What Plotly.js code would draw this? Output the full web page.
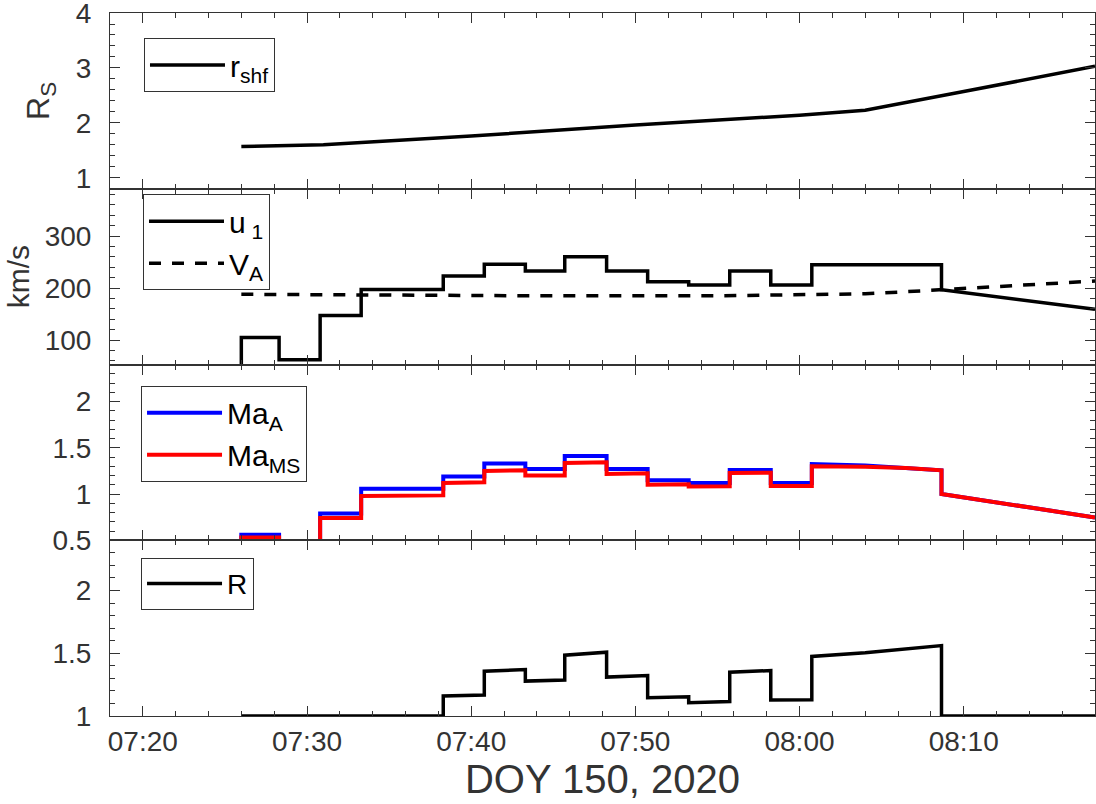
<!DOCTYPE html>
<html>
<head>
<meta charset="utf-8">
<script src="https://cdn.plot.ly/plotly-3.0.1.min.js"></script>
<style>
  html, body { margin: 0; padding: 0; background: #fff; }
  #chart { width: 1096px; height: 804px; }
</style>
</head>
<body>
<div id="chart"></div>
<script>
// ---- data (DOY 150, 2020 = 2020-05-29) ----
var day = '2020-05-29 ';

var rshfTime = ['07:26:00','07:31:00','07:40:00','07:50:00','08:00:00','08:04:00','08:10:00','08:18:00'];
var rshfVal  = [1.57, 1.60, 1.76, 1.96, 2.14, 2.23, 2.57, 3.03];

var u1Time = ['07:26:00','07:26:00','07:28:18','07:28:18','07:30:48','07:30:48','07:33:18','07:33:18',
              '07:38:18','07:38:18','07:40:48','07:40:48','07:43:18','07:43:18','07:45:42','07:45:42',
              '07:48:15','07:48:15','07:50:45','07:50:45','07:53:15','07:53:15','07:55:45','07:55:45',
              '07:58:15','07:58:15','08:00:45','08:00:45','08:08:39','08:08:39','08:18:00'];
var u1Val  = [30,105,105,62,62,147,147,197,
              197,223,223,246,246,233,233,260,
              260,233,233,212,212,206,206,233,
              233,206,206,245,245,197,159];

var vaTime = ['07:26:00','07:35:00','07:45:00','07:55:00','08:01:00','08:04:00','08:06:30','08:08:39','08:18:00'];
var vaVal  = [188, 186, 185, 185, 187, 189, 193, 197, 213.5];

var maTime = ['07:26:00','07:26:00','07:28:18','07:28:18','07:30:48','07:30:48','07:33:18','07:33:18',
              '07:38:18','07:38:18','07:40:48','07:40:48','07:43:18','07:43:18','07:45:42','07:45:42',
              '07:48:15','07:48:15','07:50:45','07:50:45','07:53:15','07:53:15','07:55:45','07:55:45',
              '07:58:15','07:58:15','08:00:45','08:00:45','08:04:00','08:06:30','08:08:39','08:08:39','08:18:00'];
var maAVal  = [0.2,0.56,0.56,0.33,0.33,0.79,0.79,1.058,
               1.058,1.19,1.19,1.33,1.33,1.27,1.27,1.41,
               1.41,1.27,1.27,1.15,1.15,1.12,1.12,1.26,
               1.26,1.12,1.12,1.325,1.307,1.285,1.256,1.0,0.747];
var maMSVal = [0.2,0.53,0.53,0.3,0.3,0.74,0.74,0.978,
               0.985,1.12,1.127,1.25,1.256,1.2,1.2,1.336,
               1.343,1.217,1.224,1.10,1.105,1.08,1.083,1.227,
               1.23,1.087,1.087,1.30,1.295,1.28,1.256,1.0,0.747];

var rTime = ['07:26:00','07:38:18','07:38:18','07:40:48','07:40:48','07:43:18','07:43:18','07:45:42',
             '07:45:42','07:48:15','07:48:15','07:50:45','07:50:45','07:53:15','07:53:15','07:55:45',
             '07:55:45','07:58:15','07:58:15','08:00:45','08:00:45','08:04:00','08:08:39','08:08:39','08:18:00'];
var rVal  = [1.0,1.0,1.159,1.167,1.357,1.37,1.278,1.286,
             1.484,1.508,1.31,1.323,1.146,1.153,1.106,1.116,
             1.349,1.362,1.127,1.13,1.474,1.503,1.561,1.0,1.0];

var xTitle = 'DOY 150, 2020';
var yTitle1 = 'R<sub>S</sub>';
var yTitle2 = 'km/s';

// ---- build ----
function t(arr) { return arr.map(function (s) { return day + s; }); }

var FONT = 'Liberation Sans, Arial, Helvetica, sans-serif';
var AX = '#333333';
var LW = 3.5;

var traces = [
  { x: t(rshfTime), y: rshfVal, xaxis: 'x', yaxis: 'y', mode: 'lines', name: 'r<sub>shf</sub>',
    line: { color: '#000', width: LW }, legend: 'legend' },
  { x: t(u1Time), y: u1Val, xaxis: 'x2', yaxis: 'y2', mode: 'lines', name: 'u<sub> 1</sub>',
    line: { color: '#000', width: LW }, legend: 'legend2', legendgroup: 'a' },
  { x: t(vaTime), y: vaVal, xaxis: 'x2', yaxis: 'y2', mode: 'lines', name: 'V<sub>A</sub>',
    line: { color: '#000', width: LW, dash: '12px,11px' }, legend: 'legend2', legendgroup: 'b' },
  { x: t(maTime), y: maAVal, xaxis: 'x3', yaxis: 'y3', mode: 'lines', name: 'Ma<sub>A</sub>',
    line: { color: '#0000ff', width: LW + 0.5 }, legend: 'legend3', legendgroup: 'c' },
  { x: t(maTime), y: maMSVal, xaxis: 'x3', yaxis: 'y3', mode: 'lines', name: 'Ma<sub>MS</sub>',
    line: { color: '#ff0000', width: LW + 0.5 }, legend: 'legend3', legendgroup: 'd' },
  { x: t(rTime), y: rVal, xaxis: 'x4', yaxis: 'y4', mode: 'lines', name: 'R',
    line: { color: '#000', width: LW }, legend: 'legend4' }
];

function xAxis(anchor, labels) {
  return {
    anchor: anchor, domain: [0, 1], type: 'date',
    range: [day + '07:18:00', day + '08:18:00'],
    tick0: day + '07:00:00', dtick: 600000, tickformat: '%H:%M',
    showticklabels: labels,
    ticks: 'inside', ticklen: 10, tickwidth: 1, tickcolor: AX,
    minor: { ticks: 'inside', dtick: 120000, tick0: day + '07:00:00', ticklen: 5, tickwidth: 1, tickcolor: AX },
    showline: true, linecolor: AX, linewidth: 1, mirror: 'allticks',
    showgrid: false, zeroline: false,
    tickfont: { family: FONT, size: 28, color: AX },
    ticklabelstandoff: 0,
    fixedrange: true
  };
}
function yAxis(anchor, dom, range, dtick, mdtick) {
  return {
    anchor: anchor, domain: dom, range: range,
    dtick: dtick, tick0: 0,
    ticks: 'inside', ticklen: 10, tickwidth: 1, tickcolor: AX,
    minor: { ticks: 'inside', dtick: mdtick, tick0: 0, ticklen: 5, tickwidth: 1, tickcolor: AX },
    showline: true, linecolor: AX, linewidth: 1, mirror: 'allticks',
    showgrid: false, zeroline: false,
    tickfont: { family: FONT, size: 28, color: AX },
    ticklabelstandoff: 12,
    ticklabeloverflow: 'allow',
    fixedrange: true
  };
}

var x1 = xAxis('y', false), x2 = xAxis('y2', false), x3 = xAxis('y3', false), x4 = xAxis('y4', true);
x2.matches = 'x'; x3.matches = 'x'; x4.matches = 'x';
x4.title = { text: xTitle, font: { family: FONT, size: 40, color: AX }, standoff: 0 };

var y1 = yAxis('x', [0.75, 1], [0.8, 4.0005], 1, 0.2);
var y2 = yAxis('x2', [0.5, 0.75], [53, 391], 100, 20);
var y3 = yAxis('x3', [0.25, 0.5], [0.5, 2.4], 0.5, 0.1);
var y4 = yAxis('x4', [0, 0.25], [1, 2.4], 0.5, 0.1);
y1.title = { text: yTitle1, font: { family: FONT, size: 32, color: AX }, standoff: 16 };
y2.title = { text: yTitle2, font: { family: FONT, size: 30, color: AX }, standoff: 6 };

function leg(x, y, fs) {
  return {
    x: x, y: y, xref: 'paper', yref: 'paper', xanchor: 'left', yanchor: 'top',
    bgcolor: '#ffffff', bordercolor: AX, borderwidth: 1,
    font: { family: FONT, size: fs || 30, color: '#000' },
    itemwidth: 75, tracegroupgap: 0, traceorder: 'normal'
  };
}

var layout = {
  width: 1096, height: 804,
  margin: { l: 110, r: 1, t: 13, b: 88, pad: 0 },
  paper_bgcolor: '#fff', plot_bgcolor: '#fff',
  font: { family: FONT, color: AX },
  showlegend: true,
  xaxis: x1, xaxis2: x2, xaxis3: x3, xaxis4: x4,
  yaxis: y1, yaxis2: y2, yaxis3: y3, yaxis4: y4,
  legend: leg(0.0345, 0.9644),
  legend2: leg(0.0335, 0.7421),
  legend3: leg(0.0315, 0.4698),
  legend4: leg(0.0315, 0.2252, 28)
};

Plotly.newPlot('chart', traces, layout, { staticPlot: true, displayModeBar: false });
</script>
</body>
</html>
